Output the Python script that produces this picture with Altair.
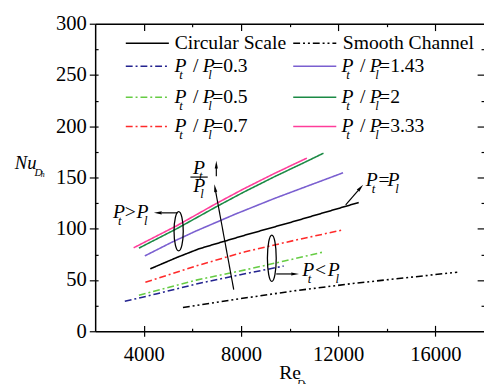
import altair as alt
import pandas as pd

FONT = "Liberation Serif, Times New Roman, serif"

# ---------------- data ----------------
series_names = ["Circular Scale", "Smooth Channel", "0.3", "1.43", "0.5", "2", "0.7", "3.33"]
series_colors = ["#000000", "#000000", "#23238f", "#7a5fd0", "#66cc44", "#1b8a45", "#ff2a2a", "#ff3d9a"]
series_dashes = [[1, 0], [7, 3, 2, 3, 2, 3], [7, 3, 2, 3], [1, 0], [7, 3, 2, 3], [1, 0], [7, 3, 2, 3], [1, 0]]

re_circ = [4267, 5354, 6280, 8173, 10186, 12844]
nu_circ = [60.9, 71.9, 80.5, 93.8, 107.2, 125.6]
re_smooth = [5612, 7771, 10186, 12603, 15019, 16899]
nu_smooth = [23.2, 31.1, 39.4, 46.6, 52.8, 57.6]
re_03 = [3220, 4549, 6160, 7972, 9756]
nu_03 = [29.2, 36.6, 46.1, 55.2, 63.6]
re_05 = [3800, 6160, 8173, 9784, 11395]
nu_05 = [35.1, 49.9, 59.9, 68.5, 77.3]
re_07 = [4066, 6160, 8173, 10186, 12172]
nu_07 = [47.7, 63.8, 77.6, 88.6, 98.8]
re_143 = [4042, 5141, 6160, 7771, 9381, 10993, 12200]
nu_143 = [73.5, 86.7, 97.9, 114.3, 129.6, 143.9, 154.6]
re_2 = [3800, 5354, 6965, 8093, 9381, 10710, 11395]
nu_2 = [81.1, 100.0, 121.2, 135.5, 150.8, 165.8, 173.7]
re_333 = [3583, 5354, 6965, 8093, 9381, 10710]
nu_333 = [81.4, 102.9, 124.4, 138.7, 154.0, 168.9]

x_major = [4000, 8000, 12000, 16000]
x_minor = [6000, 10000, 14000]
y_major = [0, 50, 100, 150, 200, 250, 300]
y_all = [25, 50, 75, 100, 125, 150, 175, 200, 225, 250, 275]
y_right_major = [50, 100, 150, 200, 250]
y_right_minor = [25, 75, 125, 175, 225, 275]

# legend (data coordinates)
leg_names = ["Circular Scale", "Smooth Channel", "0.3", "1.43", "0.5", "2", "0.7", "3.33"]
leg_x1 = [3260, 10150, 3260, 10150, 3260, 10150, 3260, 10150]
leg_x2 = [5032, 11922, 5032, 11922, 5032, 11922, 5032, 11922]
leg_y = [280.9, 280.9, 258.6, 258.6, 228.3, 228.3, 199.7, 199.7]
leg_tx = [5270, 12190, 5262, 12132, 5262, 12132, 5262, 12132]

# annotations (data coordinates)
ellipse_left = (5435, 97.6)
ellipse_right = (9269, 71.2)
arrow_rules = [  # (re1, nu1, re2, nu2)
    (7702, 40.7, 6961, 135.9),
    (5395, 115.5, 4738, 115.5),
    (9450, 55.9, 10066, 55.9),
    (12309, 123.4, 12816, 137.3),
    (6985, 151.1, 6985, 160.0),
]
arrow_heads = [  # (re, nu, angle)
    (6933, 139.7, 350),
    (4577, 115.5, 270),
    (10227, 55.9, 90),
    (12921, 140.1, 41),
    (6985, 162.6, 0),
]
frac_bar = (5919, 6632, 150.4)

# ---------------- tables ----------------
rows = []
for name, rs, ns in [("Circular Scale", re_circ, nu_circ), ("Smooth Channel", re_smooth, nu_smooth),
                     ("0.3", re_03, nu_03), ("0.5", re_05, nu_05), ("0.7", re_07, nu_07),
                     ("1.43", re_143, nu_143), ("2", re_2, nu_2), ("3.33", re_333, nu_333)]:
    for r, n in zip(rs, ns):
        rows.append({"series": name, "re": r, "nu": n})
df = pd.DataFrame(rows)

leg_df = pd.DataFrame({"series": leg_names, "x1": leg_x1, "x2": leg_x2, "y": leg_y})

# text fragments: (text, italic, size, dx, dy)
frags = []


def add(anchor_re, anchor_nu, parts):
    for t, it, fs, dx, dy in parts:
        frags.append({"re": anchor_re, "nu": anchor_nu, "txt": t, "italic": it, "fs": fs, "dx": dx, "dy": dy})


for name, tx, y in zip(leg_names, leg_tx, leg_y):
    if name in ("Circular Scale", "Smooth Channel"):
        add(tx, y, [(name, False, 20, 0, 0)])
    else:
        add(tx, y, [("P", True, 20, 0, 0), ("t", True, 13, 5, 9), ("/", False, 20, 19, 0),
                    ("P", True, 20, 29, 0), ("l", True, 13, 34.5, 9), ("=" + name, False, 20, 38.5, 0)])

add(2737, 116.3, [("P", True, 20, 0, 0), ("t", True, 13, 5, 9), (">", False, 20, 12, 0),
                  ("P", True, 20, 24, 0), ("l", True, 13, 31.5, 9)])
add(10521, 59.2, [("P", True, 20, 0, 0), ("t", True, 13, 5.5, 9), ("<", False, 20, 13, 0),
                  ("P", True, 20, 26, 0), ("l", True, 13, 34, 9)])
add(13139, 147.3, [("P", True, 20, 0, 0), ("t", True, 13, 6, 9), ("=", False, 20, 13, 0),
                   ("P", True, 20, 22, 0), ("l", True, 13, 30, 9)])
add(6027, 159.1, [("P", True, 20, 0, 0), ("t", True, 13, 6, 8)])
add(6039, 141.7, [("P", True, 20, 0, 0), ("l", True, 13, 7, 8)])
frag_df = pd.DataFrame(frags)

rule_df = pd.DataFrame([{"r1": a, "n1": b, "r2": c, "n2": d} for a, b, c, d in arrow_rules]
                       + [{"r1": frac_bar[0], "n1": frac_bar[2], "r2": frac_bar[1], "n2": frac_bar[2]}])
head_df = pd.DataFrame([{"re": a, "nu": b, "ang": c} for a, b, c in arrow_heads])

# ---------------- helpers ----------------
X_SCALE = alt.Scale(domain=[2000, 18000], nice=False, zero=False)
Y_SCALE = alt.Scale(domain=[0, 300], nice=False, zero=False)
COLOR = alt.Scale(domain=series_names, range=series_colors)
DASH = alt.Scale(domain=series_names, range=series_dashes)


def ax(orient, values, size, offset=0, domain=False, labels=False, ticks=True, **kw):
    return alt.Axis(orient=orient, values=values, tickSize=size, offset=offset, domain=domain,
                    labels=labels, ticks=ticks, grid=False, title=None, tickColor="black",
                    tickWidth=1.2, domainColor="black", domainWidth=1.5, labelFlush=False,
                    labelFont=FONT, labelFontSize=21, labelColor="black", format="d", **kw)


def X(field, axis=None):
    return alt.X(field, type="quantitative", scale=X_SCALE, axis=axis, title=None)


def Y(field, axis=None):
    return alt.Y(field, type="quantitative", scale=Y_SCALE, axis=axis, title=None)


dummy = pd.DataFrame({"re": [2000], "nu": [0]})


def axis_layer(xa, ya):
    return alt.Chart(dummy).mark_point(opacity=0).encode(x=X("re", xa), y=Y("nu", ya))


lines = alt.Chart(df).mark_line(strokeWidth=1.6).encode(
    x=X("re", ax("bottom", x_major, 5, domain=True, labels=True, labelPadding=8)),
    y=Y("nu", ax("left", y_major, 6, domain=True, labels=True, labelPadding=3)),
    color=alt.Color("series:N", scale=COLOR, legend=None),
    strokeDash=alt.StrokeDash("series:N", scale=DASH, legend=None),
    detail="series:N",
    order="re:Q",
)

a2 = axis_layer(ax("bottom", x_major, 6, offset=-6), ax("left", y_all, 3, offset=-3))
a3 = axis_layer(ax("bottom", x_minor, 3, offset=-3), ax("right", y_right_major, 7, offset=-7))
a4 = axis_layer(ax("top", x_major, 0, domain=True, ticks=False), ax("right", y_right_minor, 3, offset=-3))
a5 = axis_layer(ax("top", x_major, 7, offset=-7), None)
a6 = axis_layer(ax("top", x_minor, 3, offset=-3), None)

legend_rules = alt.Chart(leg_df).mark_rule(strokeWidth=1.6).encode(
    x=X("x1"), x2="x2", y=Y("y"),
    color=alt.Color("series:N", scale=COLOR, legend=None),
    strokeDash=alt.StrokeDash("series:N", scale=DASH, legend=None),
)

# one text layer per fragment style (offsets are mark properties)
text_layers = []
for (it, fs, dx, dy), d in frag_df.groupby(["italic", "fs", "dx", "dy"]):
    text_layers.append(
        alt.Chart(d.reset_index(drop=True)).mark_text(
            font=FONT, fontStyle="italic" if it else "normal", fontSize=float(fs),
            dx=float(dx), dy=float(dy), align="left", baseline="middle", color="black",
        ).encode(x=X("re"), y=Y("nu"), text="txt:N")
    )

rules = alt.Chart(rule_df).mark_rule(color="black", strokeWidth=1.2).encode(
    x=X("r1"), y=Y("n1"), x2="r2", y2="n2")
heads = alt.Chart(head_df).mark_point(shape="M0,-1L0.4,1L-0.4,1Z", filled=True, color="black",
                                      opacity=1, size=64).encode(
    x=X("re"), y=Y("nu"), angle=alt.Angle("ang:Q", scale=None))

ell_l = alt.Chart(pd.DataFrame({"re": [ellipse_left[0]], "nu": [ellipse_left[1]]})).mark_point(
    shape="M0,-1A0.235,1,0,1,1,0,1A0.235,1,0,1,1,0,-1Z", filled=False, color="black",
    strokeWidth=1.3, opacity=1, size=1600).encode(x=X("re"), y=Y("nu"))
ell_r = alt.Chart(pd.DataFrame({"re": [ellipse_right[0]], "nu": [ellipse_right[1]]})).mark_point(
    shape="M0,-1A0.19,1,0,1,1,0,1A0.19,1,0,1,1,0,-1Z", filled=False, color="black",
    strokeWidth=1.3, opacity=1, size=2247).encode(x=X("re"), y=Y("nu"))

# axis titles (pixel positions relative to the plot area)
title_df = pd.DataFrame([
    {"t": "Nu", "px": -82, "py": 142.5, "fs": 19, "it": True},
    {"t": "D", "px": -62, "py": 152, "fs": 11, "it": True},
    {"t": "h", "px": -55.5, "py": 155, "fs": 8, "it": True},
    {"t": "Re", "px": 188, "py": 356.5, "fs": 20, "it": False},
    {"t": "D", "px": 206, "py": 368, "fs": 11, "it": True},
    {"t": "h", "px": 213, "py": 371, "fs": 8, "it": True},
])


def title_layer(italic):
    d = title_df[title_df["it"] == italic]
    return alt.Chart(d).mark_text(font=FONT, fontStyle="italic" if italic else "normal",
                                  align="left", baseline="middle", color="black").encode(
        x=alt.X("px:Q", scale=None, axis=None),
        y=alt.Y("py:Q", scale=None, axis=None),
        size=alt.Size("fs:Q", scale=None, legend=None),
        text="t:N",
    )


chart = alt.layer(
    lines, a2, a3, a4, a5, a6, legend_rules, rules, heads, ell_l, ell_r,
    *text_layers, title_layer(True), title_layer(False),
).resolve_axis(x="independent", y="independent").properties(
    width=397, height=314,
    padding={"left": 89, "top": 12, "right": 0, "bottom": 60},
    autosize=alt.AutoSizeParams(type="none"),
).configure_view(stroke=None).configure(background="white")

chart.save("out.html", embed_options={"renderer": "svg", "actions": False})
